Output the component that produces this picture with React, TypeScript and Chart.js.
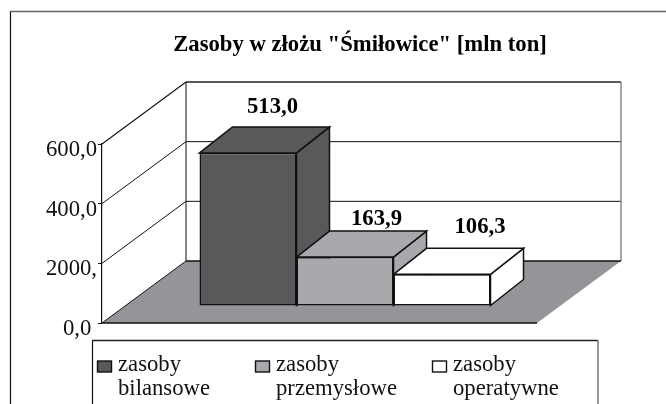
import React, { useEffect, useRef } from "react";
import { Chart, registerables } from "chart.js";

Chart.register(...registerables);

const categories = ["Zasoby"];
const seriesNames = ["zasoby bilansowe", "zasoby przemysłowe", "zasoby operatywne"];
const seriesValues = [513.0, 163.9, 106.3];
const valueLabels = ["513,0", "163,9", "106,3"];
const seriesColors = ["#58595b", "#a7a9ac", "#ffffff"];
const tickLabels = ["0,0 ", "2000,", "400,0", "600,0"];
const titleText = 'Zasoby w złożu "Śmiłowice" [mln ton]';

const SERIF = '"Liberation Serif", serif';
const DEPTH = { x: 84, y: -62 };
const BAR_SHIFT = { x: 25.5, y: -17 };
const BAR_DEPTH = { x: 33, y: -26 };
const LABEL_OFFSET = [
  { x: 24.5, y: -46 },
  { x: 31.5, y: -38 },
  { x: 38, y: -47 },
];
const LEGEND_X = [97.5, 255.5, 432.5];

function poly(ctx: CanvasRenderingContext2D, pts: number[][], fill: string | null, stroke: string | null, lw = 1) {
  ctx.beginPath();
  pts.forEach((p, i) => (i ? ctx.lineTo(p[0], p[1]) : ctx.moveTo(p[0], p[1])));
  ctx.closePath();
  if (fill) {
    ctx.fillStyle = fill;
    ctx.fill();
  }
  if (stroke) {
    ctx.strokeStyle = stroke;
    ctx.lineWidth = lw;
    ctx.lineJoin = "miter";
    ctx.stroke();
  }
}

function line(ctx: CanvasRenderingContext2D, x1: number, y1: number, x2: number, y2: number, color = "#111", lw = 1) {
  ctx.beginPath();
  ctx.moveTo(x1, y1);
  ctx.lineTo(x2, y2);
  ctx.strokeStyle = color;
  ctx.lineWidth = lw;
  ctx.stroke();
}

const scene3d = {
  id: "scene3d",
  afterLayout(chart: any) {
    if (chart.titleBlock) {
      chart.titleBlock.left = 54;
      chart.titleBlock.right = 666;
    }
  },
  beforeDraw(chart: any) {
    const ctx: CanvasRenderingContext2D = chart.ctx;
    const { left, right } = chart.chartArea;
    const y = chart.scales.y;
    const y0 = y.getPixelForValue(0);
    const yMax = y.getPixelForValue(600);
    ctx.save();
    // outer frame
    line(ctx, 10.5, 11, 10.5, 404, "#111", 1.2);
    line(ctx, 10, 11.5, 666, 11.5, "#666", 1.6);
    // floor
    poly(ctx, [[left, y0], [left + DEPTH.x, y0 + DEPTH.y], [right + DEPTH.x, y0 + DEPTH.y], [right, y0]], "#939598", null);
    // gridlines on walls
    [200, 400].forEach((v) => {
      const p = y.getPixelForValue(v);
      line(ctx, left, p, left + DEPTH.x, p + DEPTH.y, "#111", 1);
      line(ctx, left + DEPTH.x, p + DEPTH.y, right + DEPTH.x, p + DEPTH.y, "#111", 1);
    });
    // walls
    line(ctx, left, yMax, left + DEPTH.x, yMax + DEPTH.y, "#111", 1.1);
    line(ctx, left + DEPTH.x, yMax + DEPTH.y, right + DEPTH.x, yMax + DEPTH.y, "#222", 1.3);
    line(ctx, left + DEPTH.x, yMax + DEPTH.y, left + DEPTH.x, y0 + DEPTH.y, "#111", 1);
    line(ctx, right + DEPTH.x, yMax + DEPTH.y, right + DEPTH.x, y0 + DEPTH.y, "#777", 1.3);
    // floor edges
    line(ctx, left + DEPTH.x, y0 + DEPTH.y, right + DEPTH.x, y0 + DEPTH.y, "#111", 1.6);
    line(ctx, left, y0, left + DEPTH.x, y0 + DEPTH.y, "#111", 1);
    line(ctx, left, y0, right, y0, "#111", 1.4);
    ctx.restore();
  },
  beforeDatasetsDraw(chart: any) {
    // sides and tops, left to right, under every front face
    const ctx: CanvasRenderingContext2D = chart.ctx;
    ctx.save();
    chart.data.datasets.forEach((_: any, i: number) => {
      const bar = chart.getDatasetMeta(i).data[0];
      const { x, y, width, base } = bar.getProps(["x", "y", "width", "base"], true);
      const color = seriesColors[i];
      const l = x - width / 2 + BAR_SHIFT.x;
      const r = x + width / 2 + BAR_SHIFT.x;
      const t = y + BAR_SHIFT.y;
      const b = base + BAR_SHIFT.y;
      const dx = BAR_DEPTH.x;
      const dy = BAR_DEPTH.y;
      poly(ctx, [[r, t], [r + dx, t + dy], [r + dx, b + dy], [r, b]], color, "#111", 1.5);
      poly(ctx, [[l, t], [l + dx, t + dy], [r + dx, t + dy], [r, t]], color, "#111", 1.5);
    });
    ctx.restore();
  },
  beforeDatasetDraw(chart: any) {
    chart.ctx.save();
    chart.ctx.translate(BAR_SHIFT.x, BAR_SHIFT.y);
  },
  afterDatasetDraw(chart: any) {
    chart.ctx.restore();
  },
  afterDatasetsDraw(chart: any) {
    const ctx: CanvasRenderingContext2D = chart.ctx;
    ctx.save();
    // value labels
    ctx.fillStyle = "#000";
    ctx.textAlign = "center";
    ctx.textBaseline = "middle";
    ctx.font = `bold 22.7px ${SERIF}`;
    chart.data.datasets.forEach((_: any, i: number) => {
      const el = chart.getDatasetMeta(i).data[0];
      const off = LABEL_OFFSET[i];
      ctx.fillText(valueLabels[i], el.x + BAR_SHIFT.x + off.x, el.y + BAR_SHIFT.y + off.y);
    });
    // legend
    ctx.lineWidth = 1.2;
    line(ctx, 92.5, 404, 92.5, 340.5, "#111", 1.2);
    line(ctx, 92, 340.5, 598, 340.5, "#222", 1.3);
    line(ctx, 598, 340, 598, 404, "#777", 1.5);
    ctx.textAlign = "left";
    ctx.textBaseline = "alphabetic";
    ctx.font = `22.7px ${SERIF}`;
    seriesNames.forEach((name, i) => {
      const x = LEGEND_X[i];
      ctx.fillStyle = seriesColors[i];
      ctx.strokeStyle = "#111";
      ctx.lineWidth = 1.4;
      ctx.fillRect(x, 361, 14, 11);
      ctx.strokeRect(x, 361, 14, 11);
      ctx.fillStyle = "#111";
      const [a, b] = name.split(" ");
      ctx.fillText(a, x + 20.5, 370.5);
      ctx.fillText(b, x + 20.5, 394.5);
    });
    ctx.restore();
  },
};

export default function App() {
  const ref = useRef<HTMLCanvasElement>(null);
  useEffect(() => {
    const chart = new Chart(ref.current as HTMLCanvasElement, {
      type: "bar",
      data: {
        labels: categories,
        datasets: seriesNames.map((name, i) => ({
          label: name,
          data: [seriesValues[i]],
          backgroundColor: seriesColors[i],
          borderColor: "#111",
          borderWidth: 1.5,
          borderSkipped: false,
          clip: false as any,
        })),
      },
      options: {
        animation: false,
        responsive: false,
        devicePixelRatio: 1,
        layout: { padding: { left: 0, right: 129, top: 0, bottom: 81 }, autoPadding: false } as any,
        datasets: { bar: { categoryPercentage: 0.669, barPercentage: 1 } },
        plugins: {
          legend: { display: false },
          tooltip: { enabled: false },
          title: {
            display: true,
            text: titleText,
            color: "#000",
            font: { family: SERIF, size: 22.7, weight: "bold", lineHeight: 1.2 },
            padding: { top: 32, bottom: 144 - 32 - 27.24 },
          },
        },
        scales: {
          x: { display: false },
          y: {
            min: 0,
            max: 600,
            afterFit(scale: any) {
              scale.width = 102;
            },
            border: { display: true, color: "#111", width: 1.2 },
            grid: { drawOnChartArea: false, drawTicks: true, tickLength: 4, color: "#111" },
            ticks: {
              stepSize: 200,
              padding: 1,
              labelOffset: 6,
              color: "#111",
              font: { family: SERIF, size: 22.7 },
              callback: (_v: any, i: number) => tickLabels[i],
            },
          },
        },
      },
      plugins: [scene3d],
    } as any);
    return () => chart.destroy();
  }, []);
  return (
    <div style={{ position: "absolute", left: 0, top: 0, width: 666, height: 404, overflow: "hidden", background: "#fff" }}>
      <canvas ref={ref} width={666} height={404} style={{ display: "block" }} />
    </div>
  );
}
